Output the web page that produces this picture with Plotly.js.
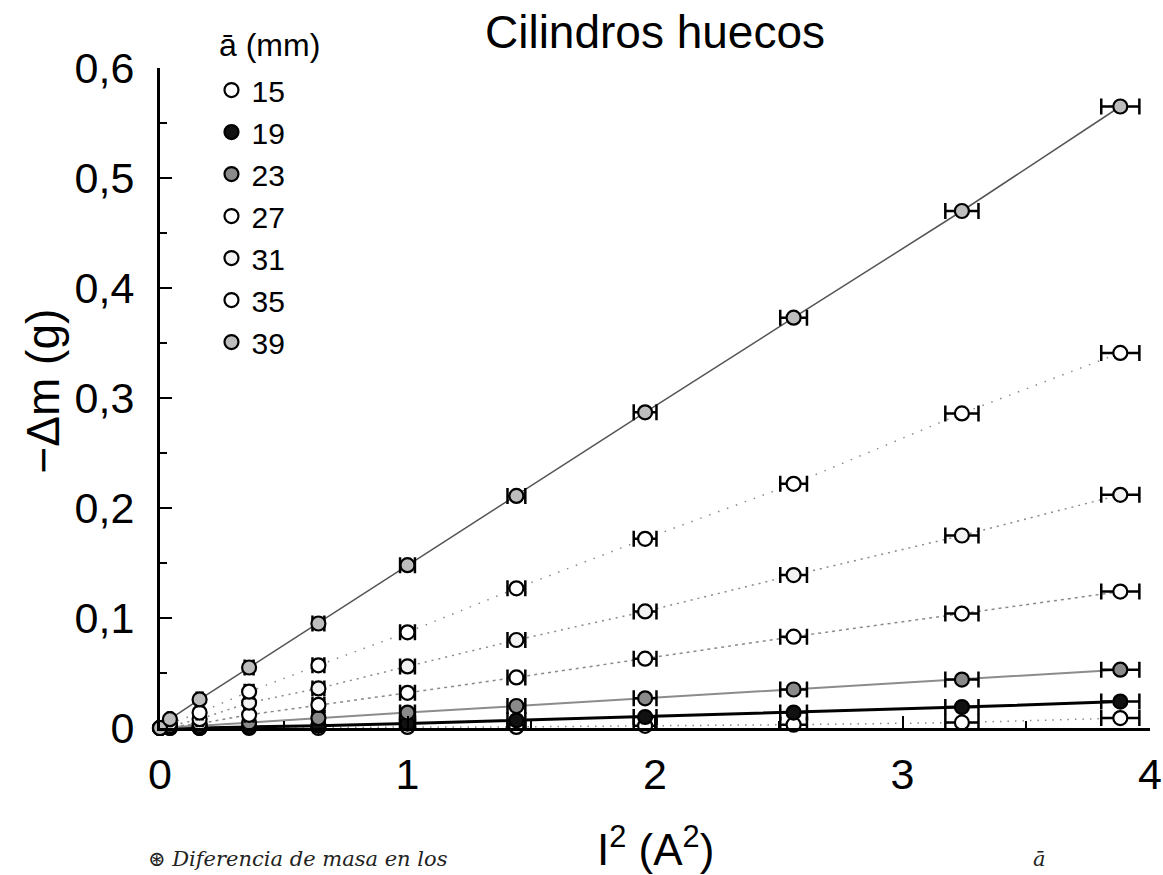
<!DOCTYPE html>
<html>
<head>
<meta charset="utf-8">
<script src="https://cdn.plot.ly/plotly-3.0.1.min.js"></script>
<style>
  html, body { margin: 0; padding: 0; background: #fff; }
  #chart { width: 1163px; height: 875px; }
</style>
</head>
<body>
<div id="chart"></div>
<script>
// Squared current I² (A²) at each measurement
const I2 = [0, 0.04, 0.16, 0.36, 0.64, 1.0, 1.44, 1.96, 2.56, 3.24, 3.88];
// Horizontal uncertainty on I² (A²)
const errI2 = [0, 0.006, 0.012, 0.018, 0.024, 0.03, 0.036, 0.046, 0.054, 0.067, 0.077];

// Mean radius ā (mm) of each hollow cylinder
const radii = ['15', '19', '23', '27', '31', '35', '39'];

// −Δm (g) for each cylinder
const dm15 = [0, 0, 0, 0, 0, 0.001, 0.001, 0.002, 0.003, 0.005, 0.009];
const dm19 = [0, 0, 0, 0.001, 0.002, 0.004, 0.007, 0.010, 0.014, 0.019, 0.024];
const dm23 = [0, 0.001, 0.002, 0.005, 0.009, 0.014, 0.020, 0.027, 0.035, 0.044, 0.053];
const dm27 = [0, 0.001, 0.004, 0.012, 0.021, 0.032, 0.046, 0.063, 0.083, 0.104, 0.124];
const dm31 = [0, 0.002, 0.008, 0.023, 0.036, 0.056, 0.080, 0.106, 0.139, 0.175, 0.212];
const dm35 = [0, 0.004, 0.014, 0.033, 0.057, 0.087, 0.127, 0.172, 0.222, 0.286, 0.341];
const dm39 = [0, 0.008, 0.026, 0.055, 0.095, 0.148, 0.211, 0.287, 0.373, 0.470, 0.565];

const series = [dm15, dm19, dm23, dm27, dm31, dm35, dm39];

// Marker fill and trend-line style per cylinder
const fills = ['#ffffff', '#111111', '#8a8a8a', '#ffffff', '#f2f2f2', '#ffffff', '#bdbdbd'];
const lineStyles = [
  { color: '#8a8a8a', width: 1.5, dash: '1.5px,6px' },
  { color: '#000000', width: 3,   dash: 'solid' },
  { color: '#8c8c8c', width: 2,   dash: 'solid' },
  { color: '#8a8a8a', width: 1.5, dash: '3px,4px' },
  { color: '#8a8a8a', width: 1.5, dash: '2px,5px' },
  { color: '#8a8a8a', width: 1.5, dash: '1.5px,8px' },
  { color: '#555555', width: 1.5, dash: 'solid' }
];

const FONT = 'Liberation Sans, Arial, Helvetica, sans-serif';

const traces = [];
// trend lines (drawn underneath the markers)
series.forEach((ys, i) => {
  traces.push({
    type: 'scatter', mode: 'lines', x: I2, y: ys,
    line: lineStyles[i], showlegend: false, hoverinfo: 'skip', cliponaxis: false
  });
});
// measured points with error bars
series.forEach((ys, i) => {
  traces.push({
    type: 'scatter', mode: 'markers', name: radii[i], x: I2, y: ys,
    marker: { symbol: 'circle', size: 14, color: fills[i], line: { color: '#000', width: 2.2 } },
    error_x: { type: 'data', array: errI2, visible: true, color: '#000', thickness: 2.5, width: 8 },
    cliponaxis: false
  });
});

const axisCommon = {
  showline: true, linewidth: 3, linecolor: '#000', mirror: false,
  showgrid: false, zeroline: false,
  ticks: 'inside', ticklen: 12, tickwidth: 2, tickcolor: '#000',
  ticklabeloverflow: 'allow',
  tickfont: { family: FONT, size: 43, color: '#000' }
};

const layout = {
  width: 1163, height: 875,
  margin: { l: 160, r: 13, t: 68, b: 147, pad: 0 },
  paper_bgcolor: '#fff', plot_bgcolor: '#fff',
  separators: ', ',
  font: { family: FONT, color: '#000' },
  title: {
    text: 'Cilindros huecos',
    font: { family: FONT, size: 46, color: '#000' },
    x: 0.5, xref: 'paper', xanchor: 'center',
    y: 1 - 32 / 875, yref: 'container', yanchor: 'middle'
  },
  xaxis: Object.assign({}, axisCommon, {
    range: [0, 4], tick0: 0, dtick: 1, ticklabelstandoff: 6,
    minor: { dtick: 0.5, ticks: 'inside', ticklen: 7, tickwidth: 2, tickcolor: '#000' }
  }),
  yaxis: Object.assign({}, axisCommon, {
    range: [0, 0.6], tick0: 0, dtick: 0.1, ticklabelstandoff: 14,
    minor: { dtick: 0.05, ticks: 'inside', ticklen: 7, tickwidth: 2, tickcolor: '#000' }
  }),
  legend: {
    x: 0.052, y: 1.006, xanchor: 'left', yanchor: 'top',
    font: { family: FONT, size: 30, color: '#000' },
    bgcolor: 'rgba(0,0,0,0)', borderwidth: 0, itemsizing: 'trace'
  },
  annotations: [
    {
      // heading of the legend
      text: 'ā (mm)',
      xref: 'paper', yref: 'paper', x: 0.058, y: 1.035,
      xanchor: 'left', yanchor: 'middle', showarrow: false,
      font: { family: FONT, size: 32, color: '#000' }
    },
    {
      text: '−Δm (g)', textangle: -90,
      xref: 'paper', yref: 'paper', x: -0.118, y: 0.51,
      xanchor: 'center', yanchor: 'middle', showarrow: false,
      font: { family: FONT, size: 46, color: '#000' }
    },
    {
      text: 'I<sup>2</sup> (A<sup>2</sup>)',
      xref: 'paper', yref: 'paper', x: 0.5, y: -0.18,
      xanchor: 'center', yanchor: 'middle', showarrow: false,
      font: { family: FONT, size: 44, color: '#000' }
    },
    {
      text: '<i>⊛ Diferencia de masa en los</i>',
      xref: 'paper', yref: 'paper', x: -0.014, y: -0.2197,
      xanchor: 'left', yanchor: 'bottom', showarrow: false,
      font: { family: 'DejaVu Serif, serif', size: 21, color: '#222' }
    },
    {
      text: '<i>ā</i>',
      xref: 'paper', yref: 'paper', x: 0.888, y: -0.2197,
      xanchor: 'center', yanchor: 'bottom', showarrow: false,
      font: { family: 'DejaVu Serif, serif', size: 21, color: '#222' }
    }
  ]
};

Plotly.newPlot('chart', traces, layout, { displayModeBar: false, staticPlot: true });
</script>
</body>
</html>
